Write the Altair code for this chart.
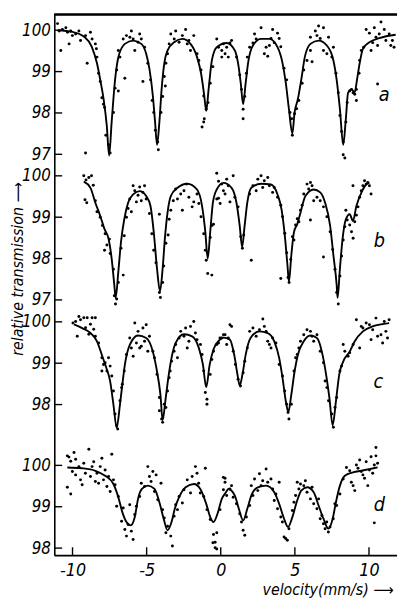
import altair as alt
import pandas as pd

# ---------------- data ----------------
panels = ["a", "b", "c", "d"]

curve_a = [(-11.0, 100.0), (-10.0, 99.96), (-9.24, 99.85), (-8.7, 99.6), (-8.35, 99.2), (-8.13, 98.8),
           (-7.9, 98.33), (-7.69, 97.7), (-7.53, 96.97), (-7.36, 97.78), (-7.13, 98.8), (-6.9, 99.36),
           (-6.47, 99.67), (-5.91, 99.75), (-5.36, 99.67), (-5.03, 99.43), (-4.8, 99.04), (-4.58, 98.41),
           (-4.43, 97.78), (-4.3, 97.23), (-4.14, 97.78), (-3.99, 98.57), (-3.81, 99.2), (-3.59, 99.51),
           (-3.14, 99.71), (-2.59, 99.79), (-2.04, 99.67), (-1.6, 99.35), (-1.33, 98.96), (-1.11, 98.41),
           (-0.98, 98.05), (-0.82, 98.57), (-0.6, 99.27), (-0.27, 99.59), (0.4, 99.69), (0.95, 99.51),
           (1.17, 99.2), (1.35, 98.72), (1.51, 98.21), (1.68, 98.72), (1.84, 99.2), (2.17, 99.63),
           (2.72, 99.79), (3.28, 99.79), (3.83, 99.59), (4.17, 99.2), (4.39, 98.72), (4.6, 98.09),
           (4.83, 97.5), (4.98, 98.01), (5.2, 98.33), (5.43, 98.8), (5.67, 99.35), (6.05, 99.67),
           (6.6, 99.75), (7.16, 99.63), (7.6, 99.27), (7.82, 98.8), (8.04, 98.09), (8.26, 97.23),
           (8.44, 97.86), (8.59, 98.49), (8.82, 98.57), (9.04, 98.5), (9.19, 98.8), (9.37, 99.2),
           (9.59, 99.55), (10.03, 99.71), (10.7, 99.81), (11.8, 99.89)]

curve_b = [(-9.24, 99.86), (-8.79, 99.71), (-8.46, 99.35), (-8.13, 99.03), (-7.84, 98.71), (-7.57, 98.48),
           (-7.36, 98.0), (-7.18, 97.36), (-7.09, 97.05), (-6.91, 97.68), (-6.73, 98.4), (-6.51, 98.95),
           (-6.25, 99.35), (-5.91, 99.55), (-5.47, 99.63), (-5.03, 99.51), (-4.74, 99.27), (-4.52, 98.64),
           (-4.3, 97.76), (-4.1, 97.21), (-3.92, 97.76), (-3.77, 98.48), (-3.59, 99.11), (-3.37, 99.51),
           (-2.92, 99.71), (-2.26, 99.81), (-1.6, 99.67), (-1.26, 99.27), (-1.04, 98.64), (-0.88, 98.0),
           (-0.71, 98.64), (-0.53, 99.35), (-0.27, 99.67), (0.18, 99.83), (0.73, 99.71), (1.06, 99.35),
           (1.28, 98.79), (1.44, 98.28), (1.61, 98.79), (1.79, 99.35), (2.06, 99.71), (2.72, 99.81),
           (3.39, 99.79), (3.83, 99.55), (4.1, 99.19), (4.32, 98.56), (4.5, 97.84), (4.6, 97.44),
           (4.76, 98.08), (4.94, 98.64), (5.16, 98.83), (5.38, 99.11), (5.71, 99.51), (6.27, 99.67),
           (6.71, 99.6), (7.04, 99.35), (7.38, 98.79), (7.6, 98.08), (7.82, 97.36), (7.88, 97.05),
           (8.04, 97.76), (8.22, 98.48), (8.44, 98.95), (8.7, 99.07), (8.92, 98.91), (9.15, 99.27),
           (9.48, 99.59), (9.81, 99.79), (10.03, 99.83)]

curve_c = [(-9.9, 99.94), (-9.35, 99.85), (-8.79, 99.73), (-8.35, 99.53), (-8.02, 99.2), (-7.75, 98.92),
           (-7.46, 98.56), (-7.24, 98.0), (-7.02, 97.44), (-6.8, 98.0), (-6.64, 98.48), (-6.47, 98.96),
           (-6.13, 99.45), (-5.58, 99.67), (-5.03, 99.61), (-4.58, 99.28), (-4.3, 98.8), (-4.07, 98.24),
           (-3.92, 97.62), (-3.74, 98.08), (-3.54, 98.64), (-3.32, 99.13), (-3.04, 99.49), (-2.48, 99.7),
           (-1.93, 99.65), (-1.48, 99.37), (-1.2, 98.96), (-0.98, 98.42), (-0.75, 98.96), (-0.49, 99.33),
           (-0.05, 99.57), (0.18, 99.62), (0.62, 99.57), (0.91, 99.2), (1.13, 98.72), (1.28, 98.46),
           (1.46, 98.72), (1.68, 99.2), (2.01, 99.61), (2.61, 99.77), (3.17, 99.73), (3.61, 99.53),
           (3.94, 99.13), (4.17, 98.64), (4.39, 98.08), (4.56, 97.82), (4.76, 98.24), (4.98, 98.8),
           (5.2, 99.2), (5.6, 99.53), (6.05, 99.67), (6.49, 99.61), (6.82, 99.28), (7.11, 98.72),
           (7.33, 98.16), (7.55, 97.5), (7.77, 98.08), (7.99, 98.72), (8.26, 99.04), (8.7, 99.28),
           (9.04, 99.53), (9.59, 99.77), (10.25, 99.89), (11.36, 99.97)]

curve_d = [(-10.35, 99.95), (-9.35, 99.93), (-8.46, 99.87), (-7.8, 99.75), (-7.24, 99.55), (-6.91, 99.23),
           (-6.64, 98.87), (-6.36, 98.63), (-6.07, 98.55), (-5.8, 98.75), (-5.58, 99.19), (-5.32, 99.43),
           (-4.92, 99.51), (-4.47, 99.43), (-4.14, 99.11), (-3.85, 98.71), (-3.59, 98.43), (-3.32, 98.63),
           (-3.1, 98.95), (-2.81, 99.23), (-2.37, 99.47), (-1.81, 99.55), (-1.38, 99.43), (-0.98, 99.07),
           (-0.71, 98.75), (-0.49, 98.63), (-0.22, 98.83), (0.07, 99.19), (0.35, 99.35), (0.51, 99.43),
           (0.95, 99.27), (1.22, 98.95), (1.51, 98.67), (1.79, 98.95), (2.06, 99.27), (2.5, 99.47),
           (3.06, 99.51), (3.61, 99.35), (3.94, 99.07), (4.27, 98.71), (4.54, 98.51), (4.83, 98.75),
           (5.12, 99.11), (5.43, 99.39), (5.83, 99.47), (6.27, 99.35), (6.6, 99.03), (6.93, 98.71),
           (7.26, 98.47), (7.55, 98.71), (7.77, 99.11), (8.04, 99.51), (8.37, 99.75), (8.92, 99.83),
           (9.48, 99.87), (10.03, 99.91), (10.58, 99.95)]

dots_a = [(-11.01, 100.16), (-10.9, 99.98), (-10.68, 100.02), (-10.45, 100.06), (-10.34, 99.95), (-10.12, 99.98),
          (-10.01, 99.87), (-9.79, 99.91), (-10.79, 99.51), (-10.23, 99.67), (-9.57, 99.98), (-9.46, 99.75),
          (-9.12, 99.87), (-9.01, 99.2), (-8.79, 99.95), (-8.68, 99.79), (-8.46, 99.67), (-8.39, 99.55),
          (-8.35, 99.35), (-8.24, 98.96), (-8.13, 98.76), (-8.02, 98.37), (-7.91, 98.21), (-7.84, 98.13),
          (-7.75, 97.46), (-7.57, 97.23), (-7.46, 97.03), (-9.12, 97.03), (-7.24, 98.01), (-7.13, 98.6),
          (-7.02, 99.04), (-6.91, 98.53), (-6.47, 98.84), (-6.91, 99.51), (-6.8, 99.35), (-6.58, 99.79),
          (-6.36, 99.87), (-6.13, 99.83), (-6.03, 99.98), (-5.91, 99.79), (-5.8, 99.51), (-5.58, 99.71),
          (-5.47, 99.91), (-5.36, 99.79), (-5.14, 99.59), (-5.25, 98.76), (-4.92, 99.2), (-4.74, 98.8),
          (-4.63, 98.3), (-4.52, 98.01), (-4.41, 97.58), (-4.25, 97.3), (-4.21, 97.11), (-4.03, 98.01),
          (-3.92, 98.4), (-3.81, 98.88), (-3.74, 98.65), (-3.7, 99.2), (-3.59, 99.43), (-3.48, 99.67),
          (-3.37, 99.91), (-3.14, 99.79), (-3.04, 99.98), (-2.81, 99.71), (-2.59, 99.87), (-2.37, 100.02),
          (-2.26, 99.67), (-2.15, 99.75), (-2.04, 99.51), (-1.82, 99.87), (-1.6, 99.43), (-1.48, 99.27),
          (-1.33, 99.04), (-1.15, 98.41), (-1.26, 97.66), (-1.15, 97.78), (-1.11, 97.86), (-0.98, 98.09),
          (-0.86, 98.25), (-0.71, 98.72), (-0.53, 99.12), (-0.27, 99.79), (-0.15, 99.59), (0.07, 99.35),
          (0.18, 99.67), (0.07, 99.51), (0.29, 99.43), (0.4, 99.59), (0.51, 99.35), (0.62, 99.69),
          (0.73, 99.75), (1.06, 99.35), (1.28, 98.92), (1.4, 98.57), (1.51, 98.09), (1.51, 97.86),
          (1.62, 98.4), (1.73, 98.96), (1.79, 99.35), (1.95, 99.59), (2.17, 99.69), (2.28, 99.91),
          (2.39, 99.79), (2.72, 100.06), (2.94, 99.43), (3.06, 99.59), (3.17, 99.37), (3.28, 99.63),
          (3.39, 99.8), (3.5, 100.02), (3.61, 99.7), (3.83, 99.93), (3.94, 99.8), (4.05, 99.6),
          (4.27, 99.08), (4.45, 98.8), (4.67, 98.01), (4.83, 97.46), (4.78, 97.86), (4.98, 97.98),
          (5.12, 98.1), (5.27, 98.3), (5.49, 98.72), (5.6, 99.04), (5.82, 99.27), (6.05, 99.51),
          (6.16, 99.24), (6.05, 99.83), (6.38, 99.98), (6.49, 99.87), (6.6, 100.1), (6.71, 99.8),
          (6.93, 100.06), (6.93, 99.51), (7.16, 99.43), (7.27, 99.83), (7.49, 99.35), (7.6, 99.59),
          (7.77, 98.96), (7.93, 98.49), (8.04, 97.94), (8.15, 97.55), (8.26, 97.3), (8.26, 96.99),
          (8.37, 96.91), (8.44, 97.78), (8.53, 98.25), (8.7, 98.53), (8.82, 98.57), (8.93, 98.49),
          (9.04, 98.45), (9.15, 98.3), (9.15, 98.57), (9.33, 98.96), (9.37, 99.27), (9.48, 99.51),
          (9.64, 99.59), (9.81, 100.02), (10.03, 99.93), (10.14, 99.51), (10.25, 99.7), (10.36, 100.06),
          (10.47, 99.83), (10.58, 99.63), (10.69, 99.91), (10.81, 100.2), (11.03, 100.02), (11.14, 99.75),
          (11.36, 99.91), (11.47, 99.63), (11.58, 99.75), (11.69, 99.59), (10.58, 98.7)]

dots_b = [(-9.24, 100.0), (-9.09, 99.9), (-8.9, 99.96), (-8.72, 100.0), (-8.6, 99.77), (-9.16, 99.42),
          (-9.04, 99.35), (-8.46, 99.4), (-8.35, 99.13), (-8.13, 99.0), (-7.98, 98.8), (-7.8, 98.6),
          (-7.84, 98.2), (-7.68, 98.33), (-7.51, 98.47), (-7.46, 98.12), (-7.24, 97.74), (-7.18, 97.1),
          (-7.1, 96.9), (-7.02, 97.02), (-6.91, 97.42), (-6.73, 98.25), (-6.58, 97.6), (-6.51, 98.55),
          (-6.36, 99.0), (-6.25, 99.21), (-6.14, 99.44), (-6.03, 99.13), (-5.91, 99.76), (-5.8, 99.64),
          (-5.69, 99.37), (-5.58, 99.53), (-5.47, 99.73), (-5.36, 99.4), (-5.25, 99.6), (-5.14, 99.76),
          (-5.03, 99.44), (-4.81, 99.09), (-4.65, 98.6), (-4.52, 98.2), (-4.37, 97.9), (-4.14, 97.18),
          (-4.07, 97.06), (-4.14, 99.07), (-3.92, 97.42), (-3.85, 97.82), (-3.7, 98.37), (-3.55, 98.57),
          (-3.48, 98.95), (-3.37, 99.17), (-3.2, 99.4), (-3.04, 99.68), (-2.92, 99.44), (-2.7, 99.56),
          (-2.59, 99.17), (-2.48, 99.64), (-2.31, 99.8), (-2.15, 99.48), (-1.93, 99.25), (-1.82, 99.37),
          (-1.6, 99.56), (-1.48, 99.33), (-1.33, 99.01), (-1.15, 98.6), (-1.04, 98.2), (-0.98, 97.96),
          (-0.88, 97.64), (-0.6, 97.6), (-0.71, 98.51), (-0.6, 98.8), (-0.49, 98.83), (-0.27, 99.44),
          (-0.15, 99.87), (-0.04, 99.33), (0.18, 99.64), (-0.27, 100.06), (-0.15, 99.46), (0.07, 99.8),
          (0.29, 99.56), (0.4, 99.92), (0.51, 99.76), (0.62, 99.37), (0.84, 100.0), (0.95, 99.48),
          (1.17, 99.25), (1.35, 98.53), (1.46, 98.25), (1.55, 98.57), (2.06, 97.96), (1.95, 99.56),
          (2.17, 99.76), (2.39, 99.64), (2.5, 99.92), (2.72, 100.0), (2.83, 99.72), (2.94, 99.88),
          (3.17, 99.96), (3.28, 99.76), (3.5, 99.6), (3.61, 99.72), (3.83, 99.48), (4.05, 99.29),
          (4.17, 99.01), (4.32, 98.61), (4.45, 98.14), (4.54, 97.54), (4.61, 97.42), (4.05, 97.52),
          (4.72, 97.98), (4.83, 98.53), (4.94, 98.45), (5.05, 98.81), (5.16, 98.96), (5.27, 98.89),
          (5.38, 99.17), (5.49, 99.29), (5.6, 99.56), (5.82, 99.8), (5.93, 99.68), (6.05, 99.84),
          (6.16, 99.76), (6.05, 98.93), (6.27, 99.4), (6.49, 99.48), (6.71, 99.4), (6.93, 99.25),
          (7.16, 99.01), (6.93, 98.04), (7.38, 98.65), (7.55, 98.22), (7.71, 97.74), (7.82, 97.18),
          (7.93, 96.9), (8.04, 97.58), (8.15, 98.06), (8.26, 98.45), (8.37, 98.77), (8.44, 99.17),
          (8.53, 98.93), (8.7, 98.81), (8.82, 98.65), (8.93, 98.49), (9.04, 98.89), (9.15, 99.05),
          (9.26, 99.25), (9.37, 99.48), (9.48, 99.64), (9.59, 99.76), (9.7, 99.88), (9.81, 99.8),
          (9.92, 99.84), (10.03, 99.76), (10.14, 99.56), (8.92, 99.76)]

dots_c = [(-9.97, 99.97), (-9.79, 100.01), (-9.57, 100.13), (-9.46, 100.05), (-9.68, 99.65), (-9.24, 100.1),
          (-9.12, 99.86), (-9.01, 100.1), (-8.9, 99.7), (-8.79, 99.94), (-8.68, 100.1), (-8.57, 99.82),
          (-8.46, 100.1), (-8.46, 99.65), (-8.24, 99.49), (-8.02, 99.13), (-7.91, 98.97), (-7.8, 99.01),
          (-7.68, 98.81), (-8.02, 98.81), (-7.57, 99.13), (-7.46, 98.93), (-7.35, 98.69), (-7.24, 98.33),
          (-7.13, 97.77), (-7.02, 97.49), (-6.95, 97.41), (-6.8, 98.09), (-6.69, 98.41), (-6.64, 98.49),
          (-6.51, 98.81), (-6.36, 99.21), (-6.14, 99.61), (-6.03, 99.37), (-5.91, 99.17), (-5.8, 99.97),
          (-5.69, 99.49), (-5.58, 99.77), (-5.47, 99.37), (-5.36, 99.41), (-5.25, 99.85), (-5.14, 99.53),
          (-5.03, 99.93), (-4.92, 99.29), (-4.81, 99.65), (-4.58, 99.29), (-4.47, 99.13), (-4.3, 98.73),
          (-4.14, 98.17), (-4.14, 97.85), (-3.99, 97.65), (-3.92, 97.57), (-3.81, 98.01), (-3.7, 97.93),
          (-3.59, 98.33), (-3.48, 98.65), (-3.41, 98.81), (-3.32, 99.05), (-3.15, 99.29), (-2.92, 99.13),
          (-3.04, 99.45), (-2.81, 99.61), (-2.7, 99.77), (-2.48, 99.65), (-2.37, 99.85), (-2.26, 99.37),
          (-2.15, 99.53), (-2.04, 99.89), (-1.82, 100.01), (-1.71, 99.73), (-1.6, 99.57), (-1.37, 99.45),
          (-1.26, 99.21), (-1.15, 98.81), (-1.04, 98.29), (-0.93, 98.13), (-0.93, 98.01), (-0.71, 98.73),
          (-0.6, 99.09), (-0.49, 99.29), (-0.27, 99.45), (-0.05, 99.61), (0.18, 99.69), (-0.15, 99.49),
          (0.07, 99.61), (0.29, 99.69), (0.4, 99.45), (0.51, 99.61), (0.62, 99.93), (0.73, 99.89),
          (0.84, 99.29), (0.99, 98.97), (1.17, 98.61), (1.33, 98.45), (1.51, 98.77), (1.62, 99.05),
          (1.79, 99.37), (1.95, 99.77), (2.17, 99.85), (2.39, 99.65), (2.61, 99.81), (2.84, 100.07),
          (2.94, 99.89), (3.06, 99.77), (3.17, 99.53), (3.28, 99.45), (3.39, 99.37), (3.5, 99.61),
          (3.72, 99.49), (3.94, 98.97), (4.17, 98.69), (4.32, 98.33), (4.45, 98.01), (4.54, 97.81),
          (4.6, 97.65), (4.76, 98.01), (4.94, 98.81), (5.05, 99.13), (5.16, 99.21), (5.27, 99.37),
          (5.38, 99.53), (5.6, 99.69), (5.82, 99.81), (6.05, 99.77), (6.16, 99.65), (6.27, 99.53),
          (6.49, 99.69), (6.71, 99.29), (6.93, 99.01), (7.04, 98.57), (7.16, 98.41), (7.27, 98.09),
          (7.49, 97.77), (7.6, 97.45), (7.71, 97.93), (7.82, 98.17), (8.04, 98.81), (8.15, 98.93),
          (8.26, 99.45), (8.37, 99.29), (8.59, 99.17), (8.7, 99.25), (8.93, 99.45), (9.15, 100.05),
          (9.37, 99.37), (9.48, 99.89), (9.59, 99.85), (9.81, 99.97), (10.03, 99.93), (10.14, 99.57),
          (10.25, 99.81), (10.47, 100.09), (10.58, 99.65), (10.81, 99.69), (10.92, 99.49), (11.03, 100.01),
          (11.14, 99.77), (11.25, 99.61), (11.36, 100.05)]

dots_d = [(-10.35, 100.23), (-10.24, 100.2), (-10.12, 100.1), (-9.9, 100.31), (-9.79, 100.15), (-10.35, 99.47),
          (-10.12, 99.31), (-10.01, 99.85), (-9.79, 99.77), (-9.57, 99.97), (-9.46, 99.65), (-9.35, 99.53),
          (-9.24, 100.05), (-9.13, 99.81), (-8.9, 100.39), (-8.79, 99.73), (-8.68, 99.97), (-8.57, 100.09),
          (-8.46, 99.61), (-8.35, 99.81), (-8.24, 99.57), (-8.13, 99.97), (-8.02, 100.17), (-7.91, 99.65),
          (-7.8, 99.89), (-7.68, 99.49), (-7.57, 99.73), (-7.35, 100.27), (-7.24, 99.65), (-7.13, 99.53),
          (-7.46, 99.37), (-7.02, 99.01), (-6.91, 99.25), (-6.69, 98.65), (-6.58, 98.97), (-6.47, 98.45),
          (-6.36, 98.29), (-6.25, 98.57), (-6.14, 99.05), (-6.03, 98.41), (-5.91, 98.21), (-5.8, 98.81),
          (-5.69, 99.01), (-5.47, 99.25), (-5.36, 99.57), (-5.14, 99.49), (-4.92, 99.97), (-4.81, 99.73),
          (-4.7, 99.61), (-4.58, 99.85), (-4.47, 99.37), (-4.36, 99.77), (-4.25, 99.17), (-4.03, 99.57),
          (-3.92, 98.93), (-3.81, 98.73), (-3.7, 98.37), (-3.59, 98.53), (-3.37, 98.29), (-3.26, 98.05),
          (-3.15, 98.77), (-3.04, 99.05), (-2.92, 98.93), (-2.81, 99.25), (-2.59, 99.09), (-2.48, 99.41),
          (-2.26, 99.65), (-2.04, 99.33), (-1.93, 99.73), (-1.71, 99.97), (-1.6, 99.81), (-1.49, 99.57),
          (-1.38, 99.33), (-1.15, 99.25), (-1.04, 99.93), (-0.93, 98.93), (-0.71, 98.69), (-0.53, 98.13),
          (-0.49, 98.33), (-0.38, 98.01), (-0.27, 98.37), (-0.05, 98.93), (0.18, 99.41), (0.29, 99.69),
          (-0.38, 98.14), (-0.27, 97.98), (0.18, 99.71), (0.29, 99.59), (0.4, 99.27), (0.62, 99.43),
          (0.73, 99.51), (0.84, 99.23), (1.06, 99.07), (1.28, 98.83), (1.4, 98.63), (1.51, 98.43),
          (1.62, 98.31), (1.73, 98.75), (1.95, 99.03), (2.06, 99.51), (2.17, 99.27), (2.28, 99.67),
          (2.5, 99.39), (2.61, 99.8), (2.72, 99.51), (2.83, 99.63), (3.06, 99.91), (3.17, 99.59),
          (3.39, 99.67), (3.5, 99.43), (3.61, 99.15), (3.72, 99.31), (3.83, 98.95), (3.94, 99.59),
          (4.05, 98.75), (4.16, 98.63), (4.27, 98.27), (4.38, 98.23), (4.49, 98.19), (4.6, 98.47),
          (4.83, 98.91), (4.94, 99.11), (5.05, 99.27), (5.16, 99.59), (5.27, 99.43), (5.38, 99.55),
          (5.6, 99.51), (5.71, 99.63), (5.82, 99.35), (6.05, 99.19), (6.16, 99.47), (6.27, 99.07),
          (6.49, 98.95), (6.6, 99.19), (6.71, 98.71), (6.82, 98.79), (6.93, 98.59), (7.04, 98.47),
          (7.15, 98.63), (7.26, 98.39), (7.37, 98.51), (7.59, 98.71), (7.7, 99.07), (7.82, 99.03),
          (8.04, 99.31), (8.26, 99.67), (8.48, 99.95), (8.7, 99.87), (8.81, 99.59), (8.93, 99.51),
          (9.04, 99.39), (9.15, 100.01), (9.26, 99.93), (9.37, 100.13), (9.48, 99.85), (9.59, 99.77),
          (9.7, 99.69), (9.81, 100.09), (9.92, 99.51), (10.03, 99.89), (10.14, 100.21), (10.25, 99.81),
          (10.36, 100.01), (10.47, 100.23), (10.47, 100.43), (10.58, 100.05), (10.36, 98.61)]

curves = {"a": curve_a, "b": curve_b, "c": curve_c, "d": curve_d}
dots = {"a": dots_a, "b": dots_b, "c": dots_c, "d": dots_d}
ytick_labels = {"a": [100, 99, 98, 97], "b": [100, 99, 98, 97], "c": [100, 99, 98], "d": [100, 99, 98]}
xtick_values = [-10, -5, 0, 5, 10]
panel_letters = ["a", "b", "c", "d"]

# ---------------- layout ----------------
W, H = 348, 549
SHIFT = {"a": 0.0, "b": 3.52, "c": 7.05, "d": 10.52}
XDOM = [-11.23, 11.89]
YDOM = [87.31, 100.381]
LETTER_POS = {"a": (11.03, 98.44), "b": (10.7, 98.43), "c": (10.63, 98.55), "d": (10.7, 99.04)}
FONT = "Liberation Sans Narrow, DejaVu Sans Condensed, Liberation Sans, sans-serif"

curve_df = pd.DataFrame([(p, v, t, t - SHIFT[p]) for p in panels for v, t in curves[p]],
                        columns=["panel", "v", "t", "y"])
dot_df = pd.DataFrame([(p, v, t, t - SHIFT[p]) for p in panels for v, t in dots[p]],
                      columns=["panel", "v", "t", "y"])
ytick_df = pd.DataFrame([(p, t, t - SHIFT[p]) for p in panels for t in ytick_labels[p]],
                        columns=["panel", "t", "y"])
xtick_df = pd.DataFrame({"v": xtick_values})
letter_df = pd.DataFrame([(p, LETTER_POS[p][0], LETTER_POS[p][1] - SHIFT[p]) for p in panel_letters],
                         columns=["panel", "v", "y"])

xs = alt.Scale(domain=XDOM, nice=False, zero=False)
ys = alt.Scale(domain=YDOM, nice=False, zero=False)

label_expr = ("'' + round(datum.value + (datum.value > 96.9 ? 0 : datum.value > 93.4 ? %s : "
              "datum.value > 90.9 ? %s : %s))" % (SHIFT["b"], SHIFT["c"], SHIFT["d"]))

yaxis = alt.Axis(values=list(ytick_df["y"]), labelExpr=label_expr, ticks=False, tickSize=0,
                 grid=False, domainColor="black", domainWidth=1.6, labelPadding=4,
                 labelFontSize=17, labelFontStyle="italic", labelFont=FONT, labelColor="black",
                 labelOverlap=False, labelBound=False,
                 title="relative transmission \u27f6", titleFont=FONT, titleFontSize=16,
                 titleFontStyle="italic", titleFontWeight="normal", titleColor="black",
                 titleX=-37, titleY=258, titleAlign="center", titleBaseline="middle", titleAngle=270)

xaxis = alt.Axis(values=xtick_values,
                 labelExpr="datum.value < 0 ? '-' + abs(datum.value) : '' + datum.value",
                 ticks=False, tickSize=0, grid=False, domainColor="black", domainWidth=1.6,
                 labelPadding=7, labelFontSize=18, labelFontStyle="italic", labelFont=FONT,
                 labelColor="black", labelOverlap=False, labelFlush=False,
                 title="velocity(mm/s) \u27f6", titleFont=FONT, titleFontSize=16,
                 titleFontStyle="italic", titleFontWeight="normal", titleColor="black",
                 titleX=W - 4, titleY=35, titleAlign="right", titleBaseline="middle")

X = alt.X("v:Q", scale=xs, axis=xaxis)
Y = alt.Y("y:Q", scale=ys, axis=yaxis)

lines = alt.Chart(curve_df).mark_line(color="black", strokeWidth=1.9, interpolate="monotone").encode(
    x=X, y=Y, detail="panel:N",
)

points = alt.Chart(dot_df).mark_circle(color="black", size=9, opacity=1).encode(x=X, y=Y)

yticks = alt.Chart(ytick_df).mark_rule(color="black", strokeWidth=1.4).encode(
    x=alt.value(0), x2=alt.value(8), y=Y,
)

xticks = alt.Chart(xtick_df).mark_rule(color="black", strokeWidth=1.4).encode(
    x=X, y=alt.value(H - 8), y2=alt.value(H),
)

topline = alt.Chart(xtick_df).mark_rule(color="black", strokeWidth=1.6).encode(
    x=alt.value(0), x2=alt.value(W), y=alt.value(0),
)

letters = alt.Chart(letter_df).mark_text(font=FONT, fontSize=20, fontStyle="italic", color="black").encode(
    x=X, y=Y, text="panel:N",
)

chart = alt.layer(lines, points, yticks, xticks, topline, letters).properties(
    width=W, height=H,
    autosize=alt.AutoSizeParams(type="none"),
    padding={"left": 47, "top": 2, "right": 0, "bottom": 42},
).configure_view(stroke=None).configure(background="white")

chart.save("out.html", embed_options={"renderer": "svg", "actions": False})
